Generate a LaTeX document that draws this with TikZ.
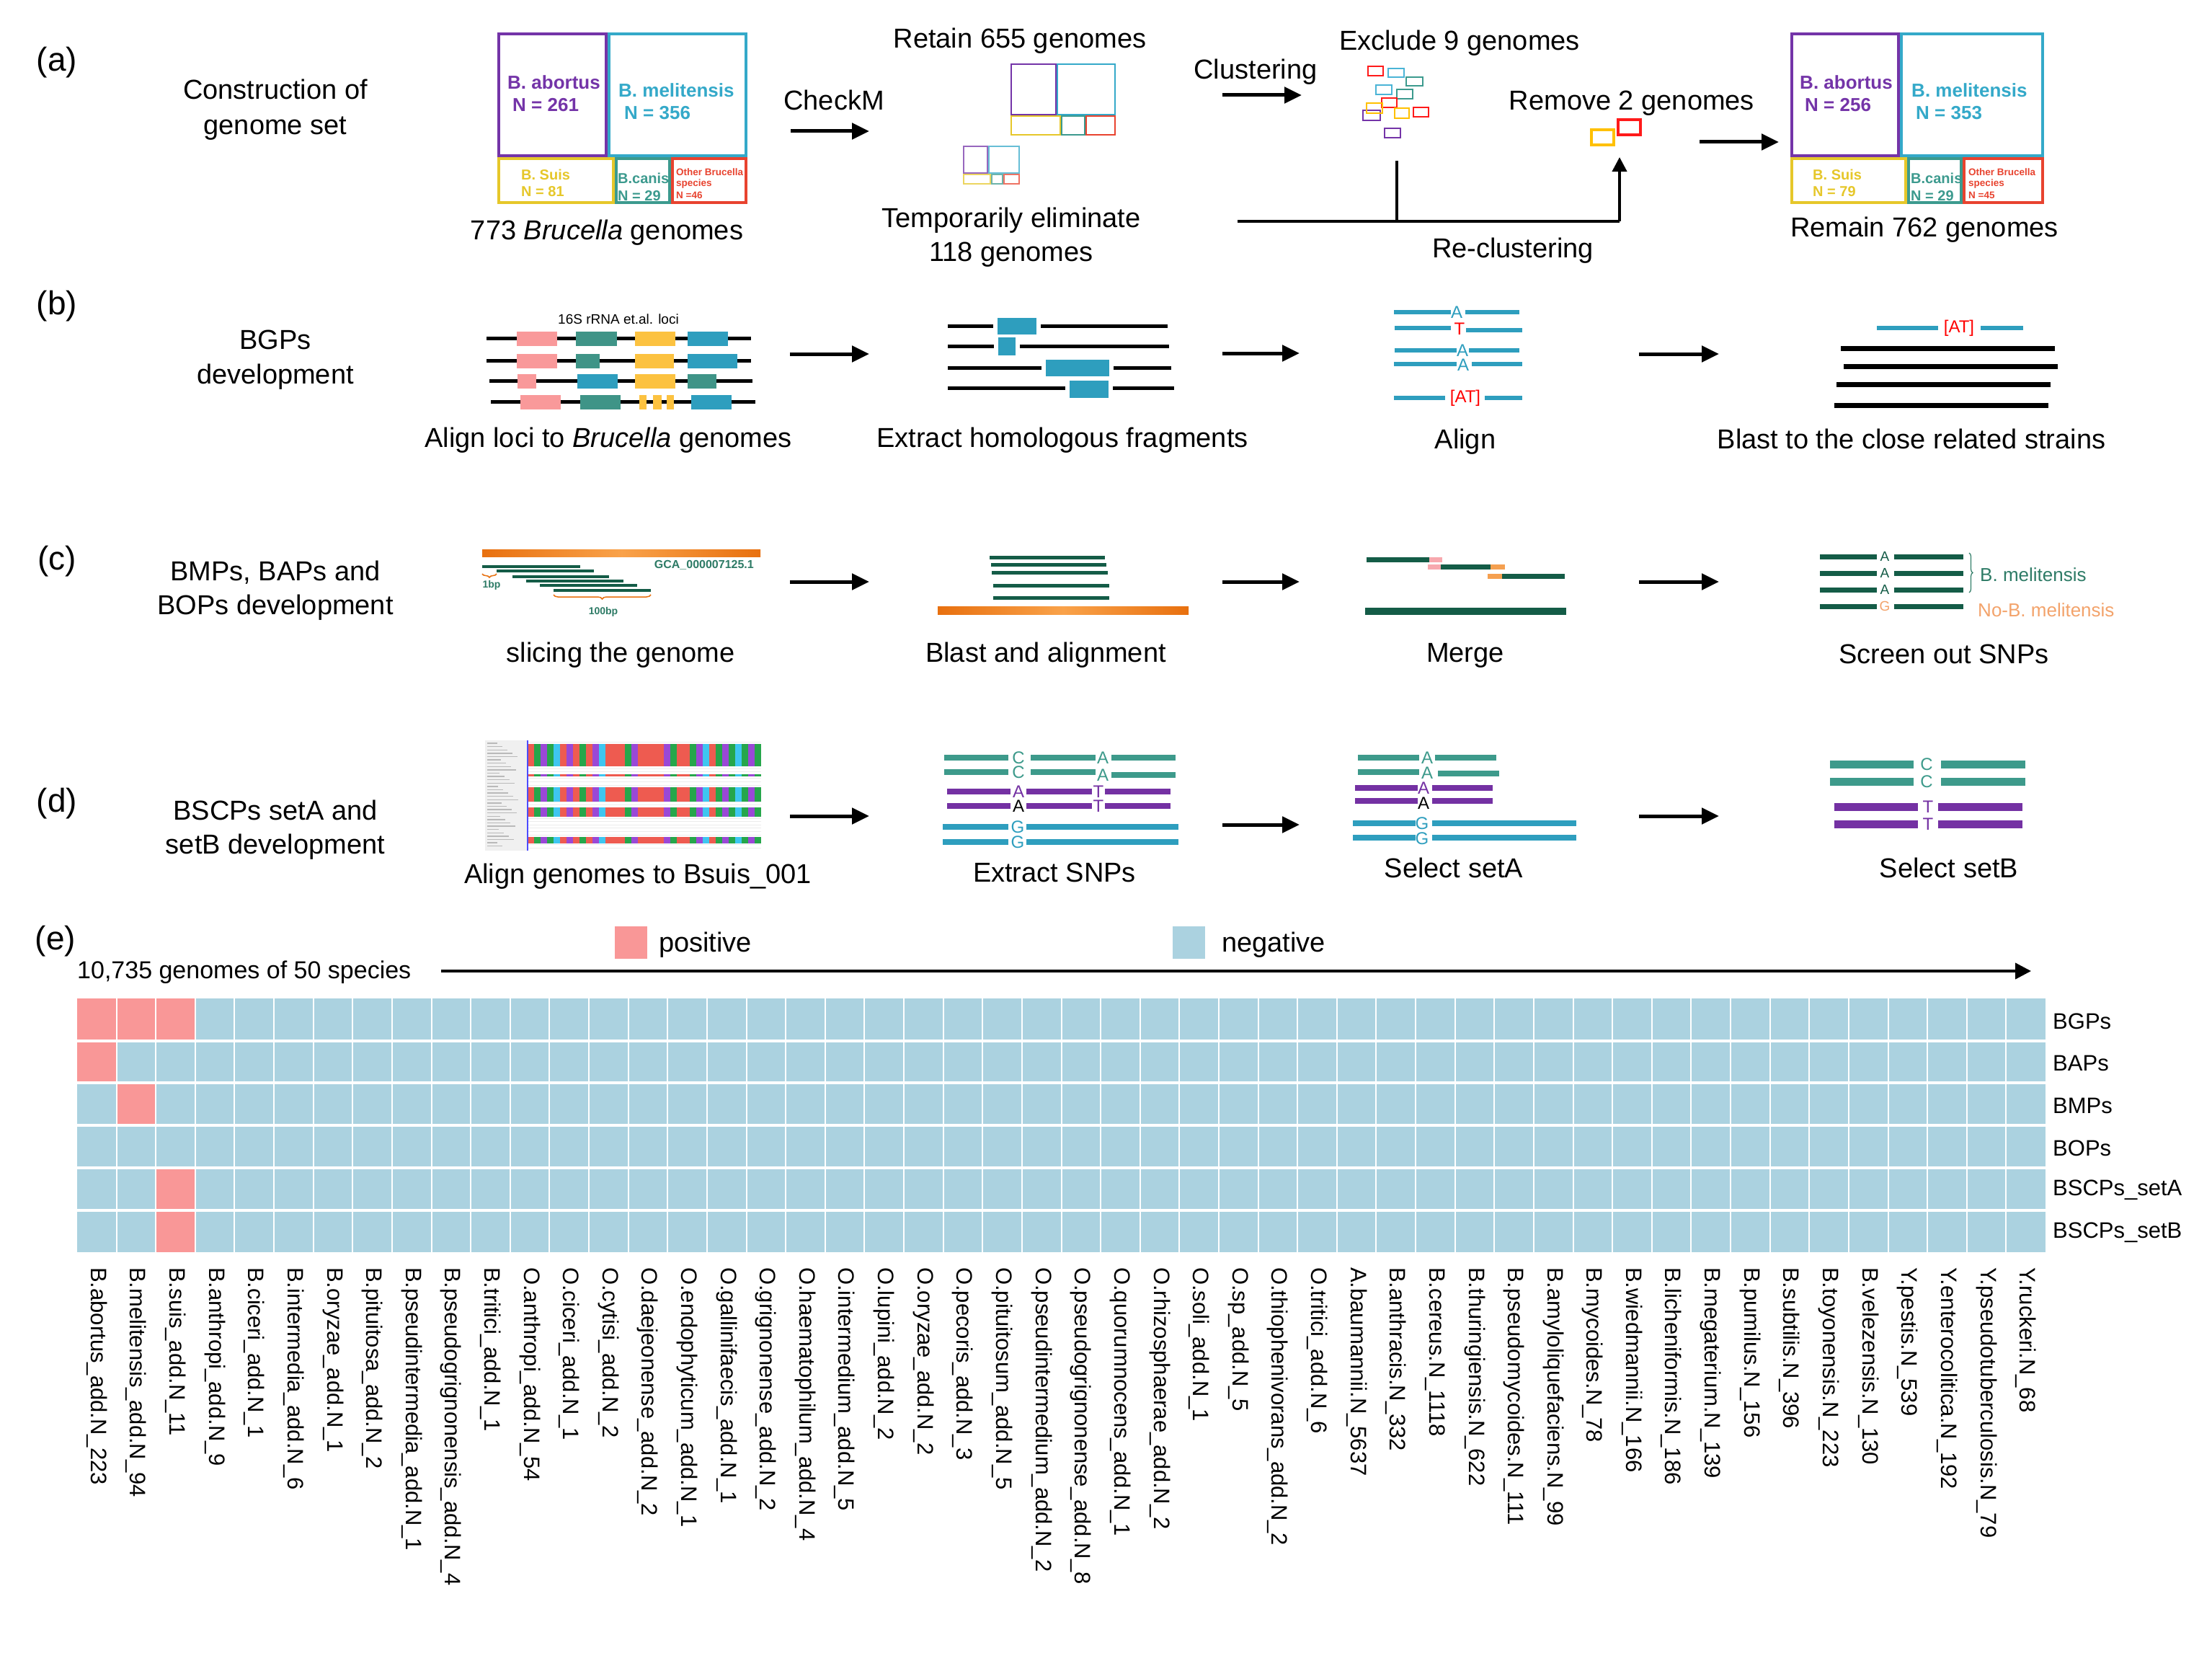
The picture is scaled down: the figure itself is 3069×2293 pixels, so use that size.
\documentclass[tikz,border=0pt]{standalone}
\usepackage{fontspec}
\setmainfont{Liberation Sans}
\usetikzlibrary{arrows.meta,decorations.pathreplacing}
\newcommand{\fsz}[2]{\fontsize{#1}{#2}\selectfont}
\definecolor{tmPurple}{HTML}{7434A8}
\definecolor{tmCyan}{HTML}{34A9C9}
\definecolor{tmYellow}{HTML}{E6C72A}
\definecolor{tmTeal}{HTML}{3C9A8E}
\definecolor{tmRed}{HTML}{E8432F}
\definecolor{exRed}{HTML}{FF1A1A}
\definecolor{exYellow}{HTML}{FFC000}
\definecolor{exCyan}{HTML}{4AB4D6}
\definecolor{lcPink}{HTML}{F9999A}
\definecolor{lcTeal}{HTML}{3F9487}
\definecolor{lcYellow}{HTML}{FCC240}
\definecolor{lcBlue}{HTML}{2E9EBE}
\definecolor{dkGreen}{HTML}{145C47}
\definecolor{orBar}{HTML}{E8700F}
\definecolor{orLight}{HTML}{F9A24A}
\definecolor{mgPink}{HTML}{F7A8AE}
\definecolor{mgOrange}{HTML}{F5A050}
\definecolor{snTeal}{HTML}{3D9A8B}
\definecolor{snPurple}{HTML}{7431A3}
\definecolor{hmPink}{HTML}{F99797}
\definecolor{hmBlue}{HTML}{ABD2E0}
\definecolor{alRed}{HTML}{EE5B50}
\definecolor{alGreen}{HTML}{26A64B}
\definecolor{alPurple}{HTML}{9A48D6}
\definecolor{alCyan}{HTML}{3EC6F0}
\definecolor{txtGreen}{HTML}{2E7B66}
\definecolor{txtOrange}{HTML}{F3A36B}
\tikzset{
  lbl/.style={font=\fsz{38}{46}, inner sep=0pt, anchor=base},
  panel/.style={font=\fsz{46}{50}, inner sep=0pt},
  flow/.style={line width=5pt, -{Triangle[length=24pt,width=22pt]}},
  thinflow/.style={line width=4pt, -{Triangle[length=20pt,width=20pt]}},
  tmb/.style={line width=4pt},
  tms/.style={line width=2.8pt},
  exr/.style={line width=2.6pt},
  bigT/.style={font=\bfseries\fsz{26}{30}, inner sep=0pt, anchor=west},
  midT/.style={font=\bfseries\fsz{20}{24}, inner sep=0pt, anchor=west},
  tinyT/.style={font=\bfseries\fsz{13.5}{16}, inner sep=0pt, anchor=west},
  gline/.style={line width=5pt, black},
  bline/.style={line width=7pt, black},
  seqb/.style={line width=6pt, lcBlue},
  base/.style={font=\fsz{24}{28}, inner sep=0pt},
  sbase/.style={font=\fsz{19}{22}, inner sep=0pt},
  collbl/.style={font=\fsz{31}{36}, inner sep=0pt, rotate=-90, anchor=west},
  rowlbl/.style={font=\fsz{31}{36}, inner sep=0pt, anchor=west},
  brc/.style={decorate, line width=1.5pt},
}
\begin{document}
\begin{tikzpicture}[x=1pt,y=-1pt]
\useasboundingbox (0,0) rectangle (3069,2293);
\fill[white] (0,0) rectangle (3069,2293);

% ---------------- panel labels ----------------
\node[panel] (pa) at (79,87) {(a)};
\node[panel] (pb) at (79,425) {(b)};
\node[panel] (pc) at (79,779) {(c)};
\node[panel] (pd) at (79,1115) {(d)};
\node[panel] (pe) at (77,1306) {(e)};

\node[lbl] (ta1) at (382,138) {Construction of};
\node[lbl] (ta2) at (382,186) {genome set};
\node[lbl] (tb1) at (382,484) {BGPs};
\node[lbl] (tb2) at (382,532) {development};
\node[lbl] (tc1) at (382,805) {BMPs, BAPs and};
\node[lbl] (tc2) at (382,852) {BOPs development};
\node[lbl] (td1) at (382,1137) {BSCPs setA and};
\node[lbl] (td2) at (382,1184) {setB development};

% ---------------- panel (a) ----------------
% treemap 773
\draw[tmb, tmPurple] (692,47) rectangle (841,216);
\draw[tmb, tmCyan] (845,47) rectangle (1035,216);
\draw[tmb, tmYellow] (692,220) rectangle (851,281);
\draw[tmb, tmTeal] (855,220) rectangle (929,281);
\draw[tmb, tmRed] (933,220) rectangle (1035,281);
\node[bigT, tmPurple] (t1a) at (704,114) {B. abortus};
\node[bigT, tmPurple] (t1b) at (711,146) {N = 261};
\node[bigT, tmCyan] (t1c) at (858,125) {B. melitensis};
\node[bigT, tmCyan] (t1d) at (866,157) {N = 356};
\node[midT, tmYellow] (t1e) at (723,242) {B. Suis};
\node[midT, tmYellow] (t1f) at (723,266) {N = 81};
\node[midT, tmTeal] (t1g) at (857,247) {B.canis};
\node[midT, tmTeal] (t1h) at (857,272) {N = 29};
\node[tinyT, tmRed] (t1i) at (938,239) {Other Brucella};
\node[tinyT, tmRed] (t1j) at (938,255) {species};
\node[tinyT, tmRed] (t1k) at (938,271) {N =46};
\node[lbl] (c773) at (842,332) {773 \textit{Brucella} genomes};

% CheckM
\node[lbl] (cchk) at (1157,153) {CheckM};
\coordinate (a1s) at (1097,182); \coordinate (a1e) at (1206,182);
\draw[flow] (a1s) -- (a1e);

% retained treemap
\node[lbl] (cret) at (1415,67) {Retain 655 genomes};
\draw[tms, tmPurple] (1403,89) rectangle (1465,159);
\draw[tms, tmCyan] (1467,89) rectangle (1547,159);
\draw[tms, tmYellow] (1403,161) rectangle (1471,187);
\draw[tms, tmTeal] (1473,161) rectangle (1505,187);
\draw[tms, tmRed] (1507,161) rectangle (1547,187);
% eliminated treemap
\draw[line width=2.4pt, tmPurple!75] (1337,203) rectangle (1370,240);
\draw[line width=2.4pt, tmCyan!75] (1372,203) rectangle (1414,240);
\draw[line width=2.4pt, tmYellow!75] (1337,242) rectangle (1374,255);
\draw[line width=2.4pt, tmTeal!75] (1376,242) rectangle (1391,255);
\draw[line width=2.4pt, tmRed!75] (1393,242) rectangle (1414,255);
\node[lbl] (ctmp1) at (1403,315) {Temporarily eliminate};
\node[lbl] (ctmp2) at (1403,362) {118 genomes};

% clustering
\node[lbl] (cclu) at (1742,110) {Clustering};
\coordinate (a2s) at (1696,132); \coordinate (a2e) at (1806,132);
\draw[flow] (a2s) -- (a2e);

\node[lbl] (cexc) at (2025,70) {Exclude 9 genomes};
\draw[exr, exRed] (1898,92) rectangle (1919,105);
\draw[exr, exCyan] (1926,95) rectangle (1948,107);
\draw[exr, tmTeal] (1951,107) rectangle (1974,119);
\draw[exr, exCyan] (1909,118) rectangle (1931,131);
\draw[exr, tmTeal] (1938,124) rectangle (1960,137);
\draw[exr, exRed] (1917,136) rectangle (1938,149);
\draw[exr, tmPurple] (1891,153) rectangle (1915,167);
\draw[exr, exYellow] (1896,143) rectangle (1918,157);
\draw[exr, exYellow] (1935,150) rectangle (1955,164);
\draw[exr, exRed] (1961,149) rectangle (1982,162);
\draw[exr, tmPurple] (1921,178) rectangle (1943,191);

% re-clustering
\coordinate (rcA) at (1717,307);
\coordinate (rcB) at (2247,307);
\coordinate (rcC) at (2247,218);
\coordinate (rcV1) at (1938,223);
\coordinate (rcV2) at (1938,307);
\draw[line width=4pt] (rcA) -- (rcB);
\draw[line width=4pt] (rcV1) -- (rcV2);
\draw[thinflow] (rcB) -- (rcC);
\node[lbl] (crecl) at (2099,357) {Re-clustering};

\node[lbl] (crem) at (2264,153) {Remove 2 genomes};
\draw[line width=4pt, exYellow] (2208,180) rectangle (2239,201);
\draw[line width=4pt, exRed] (2245,166) rectangle (2276,187);
\coordinate (a3s) at (2358,197); \coordinate (a3e) at (2468,197);
\draw[flow] (a3s) -- (a3e);

% treemap 762
\draw[tmb, tmPurple] (2486,47) rectangle (2634,216);
\draw[tmb, tmCyan] (2638,47) rectangle (2834,216);
\draw[tmb, tmYellow] (2486,220) rectangle (2644,281);
\draw[tmb, tmTeal] (2648,220) rectangle (2721,281);
\draw[tmb, tmRed] (2725,220) rectangle (2834,281);
\node[bigT, tmPurple] (t2a) at (2497,114) {B. abortus};
\node[bigT, tmPurple] (t2b) at (2504,146) {N = 256};
\node[bigT, tmCyan] (t2c) at (2652,125) {B. melitensis};
\node[bigT, tmCyan] (t2d) at (2658,157) {N = 353};
\node[midT, tmYellow] (t2e) at (2515,242) {B. Suis};
\node[midT, tmYellow] (t2f) at (2515,266) {N = 79};
\node[midT, tmTeal] (t2g) at (2651,247) {B.canis};
\node[midT, tmTeal] (t2h) at (2651,272) {N = 29};
\node[tinyT, tmRed] (t2i) at (2731,239) {Other Brucella};
\node[tinyT, tmRed] (t2j) at (2731,255) {species};
\node[tinyT, tmRed] (t2k) at (2731,271) {N =45};
\node[lbl] (crema) at (2670,328) {Remain 762 genomes};

% ---------------- panel (b) ----------------
\node[font=\fsz{19}{22}, inner sep=0pt] (loci) at (858,443) {16S rRNA et.al. loci};
\draw[gline] (675,469) -- (1042,469);
\draw[gline] (675,500) -- (1042,500);
\draw[gline] (679,528) -- (1044,528);
\draw[gline] (681,557) -- (1048,557);
\fill[lcPink] (717,460) rectangle (773,480);
\fill[lcTeal] (799,460) rectangle (856,480);
\fill[lcYellow] (881,460) rectangle (937,480);
\fill[lcBlue] (954,460) rectangle (1010,480);
\fill[lcPink] (717,491) rectangle (773,511);
\fill[lcTeal] (799,491) rectangle (832,511);
\fill[lcYellow] (881,491) rectangle (935,511);
\fill[lcBlue] (954,491) rectangle (1023,511);
\fill[lcPink] (718,519) rectangle (744,539);
\fill[lcBlue] (801,519) rectangle (857,539);
\fill[lcYellow] (881,519) rectangle (937,539);
\fill[lcTeal] (954,519) rectangle (994,539);
\fill[lcPink] (722,548) rectangle (778,568);
\fill[lcTeal] (805,548) rectangle (861,568);
\fill[lcYellow] (887,548) rectangle (897,568);
\fill[lcYellow] (906,548) rectangle (918,568);
\fill[lcYellow] (925,548) rectangle (935,568);
\fill[lcBlue] (959,548) rectangle (1015,568);
\node[lbl] (cb1) at (844,620) {Align loci to \textit{Brucella} genomes};
\coordinate (b1s) at (1096,491); \coordinate (b1e) at (1206,491);
\draw[flow] (b1s) -- (b1e);

\draw[gline] (1315,452) -- (1620,452);
\draw[gline] (1315,480) -- (1622,480);
\draw[gline] (1315,510) -- (1625,510);
\draw[gline] (1315,538) -- (1629,538);
\fill[white] (1378,441) rectangle (1444,464);
\fill[lcBlue] (1384,441) rectangle (1438,464);
\fill[white] (1379,468) rectangle (1415,493);
\fill[lcBlue] (1385,468) rectangle (1409,493);
\fill[white] (1445,499) rectangle (1545,522);
\fill[lcBlue] (1451,499) rectangle (1539,522);
\fill[white] (1478,528) rectangle (1544,552);
\fill[lcBlue] (1484,528) rectangle (1538,552);
\node[lbl] (cb2) at (1474,620) {Extract homologous fragments};
\coordinate (b2s) at (1696,490); \coordinate (b2e) at (1803,490);
\draw[flow] (b2s) -- (b2e);

\draw[seqb] (1934,433) -- (2013,433); \draw[seqb] (2033,433) -- (2108,433);
\node[base, lcBlue] (al1) at (2021,433) {A};
\draw[seqb] (1935,455) -- (2013,455); \draw[seqb] (2034,458) -- (2112,458);
\node[base, red] (al2) at (2025,456) {T};
\draw[seqb] (1935,486) -- (2021,486); \draw[seqb] (2038,486) -- (2108,486);
\node[base, lcBlue] (al3) at (2029,486) {A};
\draw[seqb] (1934,505) -- (2021,505); \draw[seqb] (2042,505) -- (2112,505);
\node[base, lcBlue] (al4) at (2030,506) {A};
\draw[seqb] (1934,552) -- (2005,552); \draw[seqb] (2060,552) -- (2112,552);
\node[base, red] (al5) at (2033,552) {[AT]};
\node[lbl] (cb3) at (2033,622) {Align};
\coordinate (b3s) at (2274,491); \coordinate (b3e) at (2385,491);
\draw[flow] (b3s) -- (b3e);

\draw[seqb] (2604,455) -- (2689,455); \draw[seqb] (2748,455) -- (2807,455);
\node[base, red] (bl0) at (2718,455) {[AT]};
\draw[bline] (2554,483) -- (2851,483);
\draw[bline] (2558,508) -- (2855,508);
\draw[bline] (2548,533) -- (2845,533);
\draw[bline] (2545,562) -- (2842,562);
\node[lbl] (cb4) at (2652,622) {Blast to the close related strains};

% ---------------- panel (c) ----------------
\shade[left color=orBar, right color=orBar, middle color=orLight] (669,762) rectangle (1055,772);
\node[font=\bfseries\fsz{16}{18}, inner sep=0pt, anchor=east, txtGreen] (gca) at (1046,784) {GCA\_000007125.1};
\draw[line width=4pt, dkGreen] (669,786) -- (805,786);
\draw[line width=4pt, dkGreen] (689,792) -- (824,792);
\draw[line width=4pt, dkGreen] (711,800) -- (845,800);
\draw[line width=4pt, dkGreen] (730,806) -- (865,806);
\draw[line width=4pt, dkGreen] (749,812) -- (884,812);
\draw[line width=4pt, dkGreen] (768,819) -- (903,819);
\coordinate (br1s) at (669,796); \coordinate (br1e) at (689,796);
\draw[brc, orBar, decoration={brace, mirror, amplitude=5pt}] (br1s) -- (br1e);
\node[font=\bfseries\fsz{14}{16}, inner sep=0pt, txtGreen] (bp1) at (682,812) {1bp};
\coordinate (br2s) at (768,825); \coordinate (br2e) at (903,825);
\draw[brc, orBar, decoration={brace, mirror, amplitude=6pt}] (br2s) -- (br2e);
\node[font=\bfseries\fsz{14}{16}, inner sep=0pt, txtGreen] (bp100) at (837,849) {100bp};
\node[lbl] (cc1) at (861,918) {slicing the genome};
\coordinate (c1s) at (1096,807); \coordinate (c1e) at (1206,807);
\draw[flow] (c1s) -- (c1e);

\draw[line width=5pt, dkGreen] (1373,773) -- (1533,773);
\draw[line width=5pt, dkGreen] (1375,783) -- (1535,783);
\draw[line width=5pt, dkGreen] (1376,794) -- (1537,794);
\draw[line width=5pt, dkGreen] (1378,812) -- (1539,812);
\draw[line width=5pt, dkGreen] (1378,829) -- (1539,829);
\shade[left color=orBar, right color=orBar, middle color=orLight] (1301,841) rectangle (1649,852);
\node[lbl] (cc2) at (1451,918) {Blast and alignment};
\coordinate (c2s) at (1696,807); \coordinate (c2e) at (1803,807);
\draw[flow] (c2s) -- (c2e);

\draw[line width=7pt, dkGreen] (1896,776) -- (1983,776);
\draw[line width=7pt, mgPink] (1983,776) -- (2001,776);
\draw[line width=7pt, mgPink] (1981,786) -- (1999,786);
\draw[line width=7pt, dkGreen] (1999,786) -- (2068,786);
\draw[line width=7pt, mgOrange] (2068,786) -- (2088,786);
\draw[line width=7pt, mgOrange] (2064,799) -- (2084,799);
\draw[line width=7pt, dkGreen] (2084,799) -- (2171,799);
\draw[line width=10pt, dkGreen] (1894,848) -- (2173,848);
\node[lbl] (cc3) at (2033,918) {Merge};
\coordinate (c3s) at (2274,807); \coordinate (c3e) at (2385,807);
\draw[flow] (c3s) -- (c3e);

\foreach \yy/\cl/\lt [count=\k] in {772/dkGreen/A,795/dkGreen/A,818/dkGreen/A,841/txtOrange/G}{
  \draw[line width=7pt, dkGreen] (2525,\yy) -- (2604,\yy);
  \draw[line width=7pt, dkGreen] (2628,\yy) -- (2724,\yy);
  \node[sbase, \cl] (sn\k) at (2615,\yy) {\lt};
}
\coordinate (br3s) at (2732,767); \coordinate (br3e) at (2732,822);
\draw[brc, txtGreen, line width=1.2pt, decoration={brace, amplitude=5pt}] (br3s) -- (br3e);
\node[font=\fsz{26}{30}, inner sep=0pt, anchor=west, txtGreen] (bmel) at (2747,797) {B. melitensis};
\node[font=\fsz{26}{30}, inner sep=0pt, anchor=west, txtOrange] (nbmel) at (2744,846) {No-B. melitensis};
\node[lbl] (cc4) at (2697,920) {Screen out SNPs};

% ---------------- panel (d) ----------------
\fill[gray!12] (673,1027) rectangle (732,1180);
\foreach \r in {0,...,31}
  \draw[gray!55, line width=1.4pt] (676,{1031+\r*4.6}) -- ({690+mod(\r*7,30)},{1031+\r*4.6});
\foreach \r in {0,...,32}
  \draw[gray!15, line width=0.6pt] (732,{1029+\r*4.6}) -- (1056,{1029+\r*4.6});
\foreach \c [count=\k] in {alRed,alGreen,alPurple,alGreen,alCyan,alRed,alPurple,alRed,alGreen,alRed,alPurple,alCyan,alRed,alRed,alRed,alGreen,alPurple,alRed,alRed,alRed,alRed,alPurple,alGreen,alRed,alRed,alGreen,alPurple,alCyan,alRed,alGreen,alPurple,alGreen,alCyan,alGreen,alPurple,alGreen}{
  \foreach \ya/\yb in {1032/1063,1074/1077,1092/1112,1120/1133,1161/1170}
    \fill[\c] ({732+(\k-1)*9},\ya) rectangle ({732+\k*9},\yb);
}
\draw[blue!70, line width=1.2pt] (732,1027) -- (732,1180);
\node[lbl] (cd1) at (885,1225) {Align genomes to Bsuis\_001};
\coordinate (d1s) at (1096,1132); \coordinate (d1e) at (1206,1132);
\draw[flow] (d1s) -- (d1e);

% extract SNPs
\foreach \yy/\yr [count=\k] in {1051/1051,1071/1075}{
  \draw[line width=8pt, snTeal] (1310,\yy) -- (1399,\yy);
  \draw[line width=8pt, snTeal] (1430,\yy) -- (1520,\yy);
  \draw[line width=8pt, snTeal] (1542,\yr) -- (1631,\yr);
  \node[base, snTeal] (ec\k) at (1413,\yy) {C};
  \node[base, snTeal] (ea\k) at (1530,\yr) {A};
}
\foreach \yy/\cl [count=\k] in {1098/snPurple,1118/black}{
  \draw[line width=8pt, snPurple] (1314,\yy) -- (1402,\yy);
  \draw[line width=8pt, snPurple] (1424,\yy) -- (1515,\yy);
  \draw[line width=8pt, snPurple] (1533,\yy) -- (1624,\yy);
  \node[base, \cl] (ep\k) at (1413,\yy) {A};
  \node[base, snPurple] (et\k) at (1524,\yy) {T};
}
\foreach \yy [count=\k] in {1147,1168}{
  \draw[line width=8pt, lcBlue] (1308,\yy) -- (1399,\yy);
  \draw[line width=8pt, lcBlue] (1424,\yy) -- (1635,\yy);
  \node[base, lcBlue] (eg\k) at (1412,\yy) {G};
}
\node[lbl] (cd2) at (1463,1223) {Extract SNPs};
\coordinate (d2s) at (1696,1144); \coordinate (d2e) at (1803,1144);
\draw[flow] (d2s) -- (d2e);

% select setA
\draw[line width=8pt, snTeal] (1884,1051) -- (1969,1051);
\draw[line width=8pt, snTeal] (1991,1051) -- (2076,1051);
\node[base, snTeal] (sa1) at (1980,1051) {A};
\draw[line width=8pt, snTeal] (1884,1071) -- (1969,1071);
\draw[line width=8pt, snTeal] (1995,1073) -- (2080,1073);
\node[base, snTeal] (sa2) at (1980,1072) {A};
\draw[line width=8pt, snPurple] (1880,1093) -- (1967,1093);
\draw[line width=8pt, snPurple] (1987,1093) -- (2071,1093);
\node[base, snPurple] (sa3) at (1975,1093) {A};
\draw[line width=8pt, snPurple] (1880,1111) -- (1967,1111);
\draw[line width=8pt, snPurple] (1987,1111) -- (2071,1111);
\node[base, black] (sa4) at (1975,1114) {A};
\draw[line width=8pt, lcBlue] (1877,1142) -- (1964,1142);
\draw[line width=8pt, lcBlue] (1987,1142) -- (2187,1142);
\node[base, lcBlue] (sa5) at (1973,1142) {G};
\draw[line width=8pt, lcBlue] (1877,1162) -- (1964,1162);
\draw[line width=8pt, lcBlue] (1987,1162) -- (2187,1162);
\node[base, lcBlue] (sa6) at (1973,1163) {G};
\node[lbl] (cd3) at (2017,1217) {Select setA};
\coordinate (d3s) at (2274,1132); \coordinate (d3e) at (2385,1132);
\draw[flow] (d3s) -- (d3e);

% select setB
\foreach \yy [count=\k] in {1060,1084}{
  \draw[line width=11pt, snTeal] (2539,\yy) -- (2655,\yy);
  \draw[line width=11pt, snTeal] (2693,\yy) -- (2810,\yy);
  \node[base, snTeal] (sbc\k) at (2673,\yy) {C};
}
\foreach \yy [count=\k] in {1119,1143}{
  \draw[line width=11pt, snPurple] (2545,\yy) -- (2661,\yy);
  \draw[line width=11pt, snPurple] (2689,\yy) -- (2806,\yy);
  \node[base, snPurple] (sbt\k) at (2675,\yy) {T};
}
\node[lbl] (cd4) at (2704,1217) {Select setB};

% ---------------- panel (e) ----------------
\fill[hmPink] (853,1285) rectangle (898,1330);
\node[lbl, anchor=base west] (lpos) at (914,1320) {positive};
\fill[hmBlue] (1627,1285) rectangle (1672,1330);
\node[lbl, anchor=base west] (lneg) at (1695,1320) {negative};
\node[font=\fsz{34}{40}, inner sep=0pt, anchor=base west] (gen) at (107,1357) {10,735 genomes of 50 species};
\coordinate (e1s) at (612,1347); \coordinate (e1e) at (2818,1347);
\draw[line width=4pt, -{Triangle[length=22pt,width=22pt]}] (e1s) -- (e1e);

\fill[hmBlue] (107,1385) rectangle (2838,1737);
\foreach \r/\c in {0/0,0/1,0/2,1/0,2/1,4/2,5/2}
  \fill[hmPink] ({107+\c*54.62},{1385+\r*58.7}) rectangle ({107+(\c+1)*54.62},{1385+(\r+1)*58.7});
\foreach \c in {1,...,49}
  \draw[white, line width=2pt] ({107+\c*54.62},1385) -- ({107+\c*54.62},1737);
\foreach \r in {1,...,5}
  \draw[white, line width=4pt] (107,{1385+\r*58.7}) -- (2838,{1385+\r*58.7});

\foreach \lab [count=\k] in {BGPs,BAPs,BMPs,BOPs,BSCPs\_setA,BSCPs\_setB}
  \node[rowlbl] (rl\k) at (2848,{1385+(\k-0.5)*58.7+2}) {\lab};

\foreach \lab [count=\k] in {
B.abortus\_add.N\_223, B.melitensis\_add.N\_94, B.suis\_add.N\_11, B.anthropi\_add.N\_9,
B.ciceri\_add.N\_1, B.intermedia\_add.N\_6, B.oryzae\_add.N\_1, B.pituitosa\_add.N\_2,
B.pseudintermedia\_add.N\_1, B.pseudogrignonensis\_add.N\_4, B.tritici\_add.N\_1,
O.anthropi\_add.N\_54, O.ciceri\_add.N\_1, O.cytisi\_add.N\_2, O.daejeonense\_add.N\_2,
O.endophyticum\_add.N\_1, O.gallinifaecis\_add.N\_1, O.grignonense\_add.N\_2,
O.haematophilum\_add.N\_4, O.intermedium\_add.N\_5, O.lupini\_add.N\_2, O.oryzae\_add.N\_2,
O.pecoris\_add.N\_3, O.pituitosum\_add.N\_5, O.pseudintermedium\_add.N\_2,
O.pseudogrignonense\_add.N\_8, O.quorumnocens\_add.N\_1, O.rhizosphaerae\_add.N\_2,
O.soli\_add.N\_1, O.sp\_add.N\_5, O.thiophenivorans\_add.N\_2, O.tritici\_add.N\_6,
A.baumannii.N\_5637, B.anthracis.N\_332, B.cereus.N\_1118, B.thuringiensis.N\_622,
B.pseudomycoides.N\_111, B.amyloliquefaciens.N\_99, B.mycoides.N\_78, B.wiedmannii.N\_166,
B.licheniformis.N\_186, B.megaterium.N\_139, B.pumilus.N\_156, B.subtilis.N\_396,
B.toyonensis.N\_223, B.velezensis.N\_130, Y.pestis.N\_539, Y.enterocolitica.N\_192,
Y.pseudotuberculosis.N\_79, Y.ruckeri.N\_68}
  \node[collbl] (cl\k) at ({107+(\k-0.5)*54.62},1758) {\lab};
\end{tikzpicture}
\end{document}
